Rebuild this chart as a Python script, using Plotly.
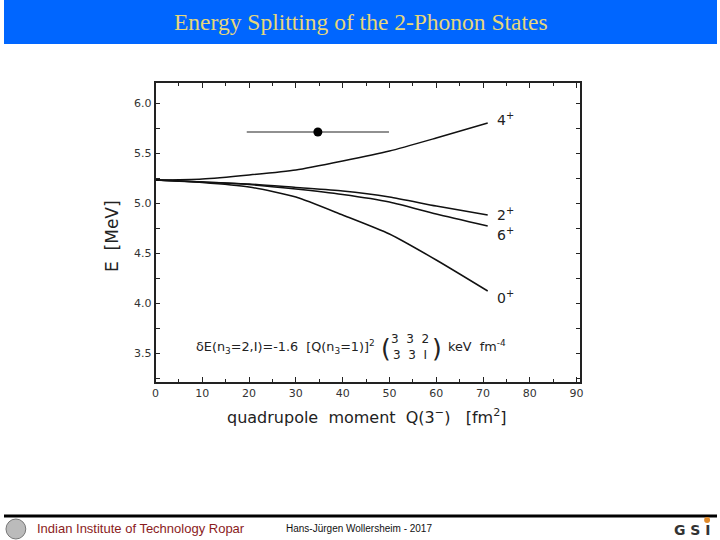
import plotly.graph_objects as go

# ---- data ----
Q = [0, 10, 20, 30, 40, 50, 60, 71]
E_4 = [5.23, 5.24, 5.28, 5.33, 5.42, 5.52, 5.65, 5.80]
E_2 = [5.23, 5.21, 5.19, 5.155, 5.12, 5.06, 4.97, 4.88]
E_6 = [5.23, 5.21, 5.185, 5.14, 5.085, 5.01, 4.89, 4.77]
E_0 = [5.23, 5.205, 5.16, 5.06, 4.88, 4.69, 4.43, 4.12]
curve_names = ["4<sup>+</sup>", "2<sup>+</sup>", "6<sup>+</sup>", "0<sup>+</sup>"]
label_y = [5.84, 4.89, 4.69, 4.06]

exp_Q = [34.7]
exp_E = [5.71]
exp_dQ = [15.2]

x_ticks = [0, 10, 20, 30, 40, 50, 60, 70, 80, 90]
y_ticks = [3.5, 4.0, 4.5, 5.0, 5.5, 6.0]

fig = go.Figure()
for E in [E_4, E_2, E_6, E_0]:
    fig.add_trace(go.Scatter(x=Q, y=E, mode="lines", line=dict(color="#111", width=1.5, shape="spline", smoothing=0.6),
                             showlegend=False, hoverinfo="skip"))
fig.add_trace(go.Scatter(x=exp_Q, y=exp_E, mode="markers",
                         marker=dict(color="#000", size=9),
                         error_x=dict(type="data", array=exp_dQ, color="#222", thickness=1.2, width=0),
                         showlegend=False))

for name, yy in zip(curve_names, label_y):
    fig.add_annotation(x=72.5, y=yy, text=name, showarrow=False, xanchor="left", yanchor="middle",
                       font=dict(family="DejaVu Sans", size=14, color="#222"))

ann_font = dict(family="DejaVu Sans", size=12.8, color="#222")
mat_font = dict(family="DejaVu Sans", size=12, color="#222")
fig.add_annotation(x=192/720, y=1-347/540, xref="paper", yref="paper", xanchor="left", yanchor="middle",
                   text="δE(n<sub>3</sub>=2,I)=-1.6  [Q(n<sub>3</sub>=1)]<sup>2</sup>", showarrow=False, font=ann_font)
fig.add_annotation(x=386/720, y=1-348/540, xref="paper", yref="paper", xanchor="center", yanchor="middle",
                   text="(", showarrow=False, font=dict(family="DejaVu Sans", size=25, color="#222"))
fig.add_annotation(x=437/720, y=1-348/540, xref="paper", yref="paper", xanchor="center", yanchor="middle",
                   text=")", showarrow=False, font=dict(family="DejaVu Sans", size=25, color="#222"))
fig.add_annotation(x=410/720, y=1-339/540, xref="paper", yref="paper", xanchor="center", yanchor="middle",
                   text="3  3  2", showarrow=False, font=mat_font, borderpad=0)
fig.add_annotation(x=410/720, y=1-355/540, xref="paper", yref="paper", xanchor="center", yanchor="middle",
                   text="3  3  I", showarrow=False, font=mat_font, borderpad=0)
fig.add_annotation(x=446/720, y=1-346/540, xref="paper", yref="paper", xanchor="left", yanchor="middle",
                   text="keV  fm<sup>-4</sup>", showarrow=False, font=ann_font)

# axis titles
fig.add_annotation(x=109/720, y=1-236/540, xref="paper", yref="paper", xanchor="center", yanchor="middle",
                   text="E  [MeV]", textangle=-90, showarrow=False,
                   font=dict(family="DejaVu Sans", size=17, color="#222"))
fig.add_annotation(x=367/720, y=1-416/540, xref="paper", yref="paper", xanchor="center", yanchor="middle",
                   text="quadrupole  moment  Q(3<sup>−</sup>)   [fm<sup>2</sup>]", showarrow=False,
                   font=dict(family="DejaVu Sans", size=16, color="#222"))

# header / footer
fig.add_annotation(x=0.5, y=1-22/540, xref="paper", yref="paper", xanchor="center", yanchor="middle",
                   text="Energy Splitting of the 2-Phonon States", showarrow=False,
                   font=dict(family="Liberation Serif", size=23.5, color="#E6D77A"))
fig.add_annotation(x=31/720, y=1-528/540, xref="paper", yref="paper", xanchor="left", yanchor="middle",
                   text="Indian Institute of Technology Ropar", showarrow=False,
                   font=dict(family="Liberation Sans", size=13, color="#8B1C1C"))
fig.add_annotation(x=283/720, y=1-528/540, xref="paper", yref="paper", xanchor="left", yanchor="middle",
                   text="Hans-Jürgen Wollersheim - 2017", showarrow=False,
                   font=dict(family="Liberation Sans", size=10, color="#111"))
fig.add_annotation(x=716/720, y=1-530/540, xref="paper", yref="paper", xanchor="right", yanchor="middle",
                   text="<b>G S I</b>", showarrow=False,
                   font=dict(family="DejaVu Sans", size=14, color="#333"))

fig.update_layout(
    width=720, height=540,
    margin=dict(l=0, r=0, t=0, b=0),
    paper_bgcolor="white", plot_bgcolor="white",
    xaxis=dict(domain=[153/720, 582/720], range=[0, 90.8], tickvals=x_ticks,
               ticks="inside", ticklen=5, tickcolor="#222", showgrid=False, zeroline=False,
               showline=True, linecolor="#222", linewidth=1.6, mirror="ticks",
               minor=dict(dtick=5, ticks="inside", ticklen=3, tickcolor="#222"),
               tickfont=dict(family="DejaVu Sans", size=11, color="#333")),
    yaxis=dict(domain=[1-382/540, 1-83/540], range=[3.21, 6.2], tickvals=y_ticks,
               tickformat=".1f",
               ticks="inside", ticklen=5, tickcolor="#222", showgrid=False, zeroline=False,
               showline=True, linecolor="#222", linewidth=1.6, mirror="ticks",
               minor=dict(dtick=0.25, tick0=3.5, ticks="inside", ticklen=5, tickcolor="#222"),
               tickfont=dict(family="DejaVu Sans", size=11, color="#333")),
    shapes=[
        dict(type="rect", xref="paper", yref="paper", x0=0, x1=1, y0=1-44/540, y1=1,
             fillcolor="#0066FF", line=dict(width=0), layer="below"),
        dict(type="line", xref="paper", yref="paper", x0=0, x1=1, y0=1-516/540, y1=1-516/540,
             line=dict(color="#000", width=3)),
        dict(type="circle", xref="paper", yref="paper", x0=2/720, x1=22/720, y0=1-539/540, y1=1-519/540,
             fillcolor="#bbb", line=dict(color="#777", width=1)),
        dict(type="circle", xref="paper", yref="paper", x0=707/720, x1=713/720, y0=1-523/540, y1=1-517/540,
             fillcolor="#E08A2A", line=dict(width=0)),
    ],
)

fig.write_html("out.html")
